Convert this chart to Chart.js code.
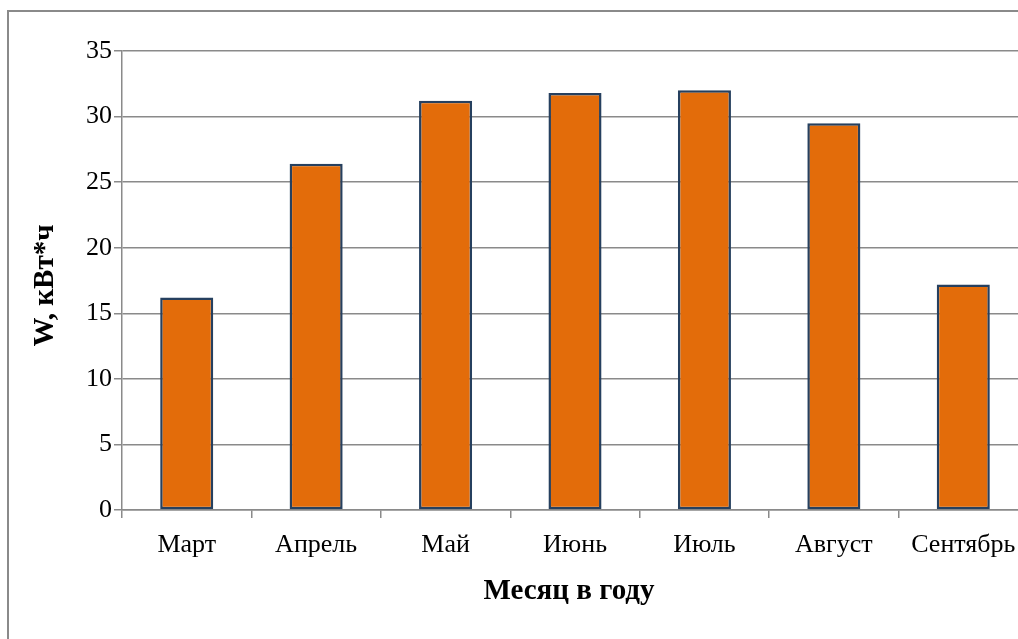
<!DOCTYPE html>
<html>
<head>
<meta charset="utf-8">
<script src="https://cdn.jsdelivr.net/npm/chart.js@4/dist/chart.umd.min.js"></script>
<style>
  html, body { margin: 0; padding: 0; background: #fff; overflow: hidden; }
  #wrap { position: relative; width: 1018px; height: 639px; overflow: hidden; }
  #frame { position: absolute; left: 7px; top: 10px; width: 1100px; height: 700px;
           border: 2px solid #8a8a8a; box-sizing: border-box; pointer-events: none; }
  #cv { position: absolute; left: 0; top: 0; }
</style>
</head>
<body>
<div id="wrap">
  <canvas id="cv" width="1040" height="639"></canvas>
  <div id="frame"></div>
</div>
<script>
// Monthly energy output, kWh
const months = ['Март', 'Апрель', 'Май', 'Июнь', 'Июль', 'Август', 'Сентябрь'];
const energy = [16.2, 26.4, 31.2, 31.8, 32.0, 29.5, 17.2];
const yTicks = [0, 5, 10, 15, 20, 25, 30, 35];
const xTitle = 'Месяц в году';
const yTitle = 'W, кВт*ч';

const serif = "'Liberation Serif', 'Times New Roman', serif";
const gridColor = '#8a8a8a';

// Axis titles, drawn next to the plot area
const axisTitles = {
  id: 'axisTitles',
  afterDraw(chart) {
    const c = chart.ctx;
    const area = chart.chartArea;
    c.save();
    c.fillStyle = '#000';
    c.font = 'bold 29px ' + serif;
    c.textAlign = 'center';
    c.textBaseline = 'middle';
    c.fillText(xTitle, area.left + (area.right - area.left) / 2 - 6, 592);
    c.translate(46, area.top + (area.bottom - area.top) / 2 + 5);
    c.rotate(-Math.PI / 2);
    c.fillText(yTitle, 0, 0);
    c.restore();
  }
};

const ctx = document.getElementById('cv');
new Chart(ctx, {
  type: 'bar',
  data: {
    labels: months,
    datasets: [{
      data: energy,
      backgroundColor: '#E36C0A',
      borderColor: '#26405F',
      borderWidth: 2.5,
      borderSkipped: false,
      categoryPercentage: 1.0,
      barPercentage: 0.41
    }]
  },
  options: {
    responsive: false,
    animation: false,
    devicePixelRatio: 1,
    layout: { padding: { top: 51, right: 12, left: 0, bottom: 0 } },
    plugins: { legend: { display: false }, tooltip: { enabled: false } },
    scales: {
      x: {
        grid: {
          offset: true,
          drawOnChartArea: false,
          drawTicks: true,
          tickLength: 8,
          color: gridColor,
          lineWidth: 1.5
        },
        border: { color: gridColor, width: 1.5 },
        ticks: {
          color: '#000',
          font: { family: serif, size: 26 },
          padding: 12,
          maxRotation: 0,
          autoSkip: false
        },
        afterFit: (s) => { s.height = 129; }
      },
      y: {
        min: 0,
        max: 35,
        afterBuildTicks: (s) => { s.ticks = yTicks.map(v => ({ value: v })); },
        grid: {
          color: gridColor,
          lineWidth: 1.5,
          drawTicks: true,
          tickLength: 8
        },
        border: { color: gridColor, width: 1.5 },
        ticks: {
          color: '#000',
          font: { family: serif, size: 26 },
          padding: 2
        },
        afterFit: (s) => { s.width = 122; }
      }
    }
  },
  plugins: [axisTitles]
});
</script>
</body>
</html>
